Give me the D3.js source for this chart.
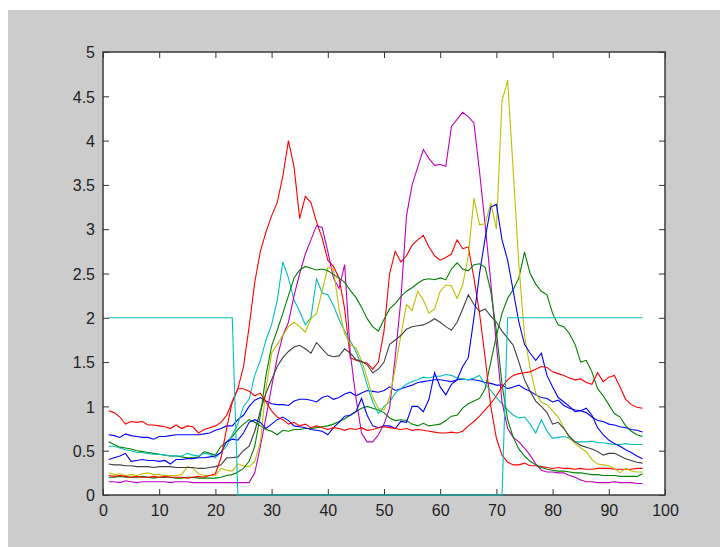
<!DOCTYPE html>
<html>
<head>
<meta charset="utf-8">
<script src="https://cdn.jsdelivr.net/npm/d3@7"></script>
<style>
  body { margin: 0; background: #fff; }
  svg { display: block; }
  .tick text { font-family: "Liberation Sans", Arial, sans-serif; font-size: 16px; fill: #222; }
</style>
</head>
<body>
<div id="chart"></div>
<script>
// sample index 1..96
const xs = d3.range(1, 97);

const blueA = [0.68,0.67,0.65,0.69,0.67,0.66,0.65,0.65,0.63,0.66,
  0.66,0.67,0.68,0.68,0.68,0.68,0.68,0.69,0.70,0.73,
  0.75,0.78,0.78,0.85,0.90,1.00,1.07,1.10,1.06,1.03,
  1.02,1.02,1.01,1.06,1.08,1.08,1.07,1.05,1.10,1.12,
  1.08,1.10,1.14,1.16,1.12,1.15,1.18,1.17,1.16,1.18,
  1.22,1.18,1.20,1.22,1.24,1.27,1.28,1.29,1.30,1.30,
  1.29,1.28,1.30,1.31,1.30,1.30,1.29,1.27,1.26,1.24,
  1.24,1.20,1.22,1.24,1.20,1.17,1.13,1.10,1.09,1.05,
  1.07,1.01,0.98,0.96,0.95,0.93,0.88,0.84,0.83,0.80,
  0.79,0.77,0.76,0.74,0.73,0.71];

const greenB = [0.60,0.57,0.54,0.53,0.52,0.50,0.49,0.48,0.47,0.46,
  0.45,0.44,0.44,0.43,0.42,0.42,0.43,0.49,0.47,0.45,
  0.55,0.60,0.66,0.74,0.80,0.85,0.82,0.78,0.74,0.72,
  0.68,0.73,0.72,0.74,0.74,0.75,0.75,0.76,0.77,0.78,
  0.80,0.83,0.86,0.90,0.94,0.98,1.00,0.98,0.96,0.93,
  0.87,0.84,0.85,0.84,0.80,0.78,0.81,0.78,0.79,0.80,
  0.84,0.89,0.90,0.98,1.03,1.06,1.09,1.20,1.50,1.80,
  2.05,2.22,2.32,2.45,2.74,2.50,2.38,2.30,2.26,2.05,
  1.92,1.90,1.82,1.70,1.50,1.52,1.39,1.20,1.12,1.02,
  0.92,0.88,0.78,0.72,0.68,0.66];

const redHi = [0.95,0.93,0.88,0.80,0.83,0.82,0.83,0.79,0.79,0.78,
  0.77,0.75,0.79,0.75,0.78,0.77,0.70,0.74,0.76,0.78,
  0.82,0.90,1.05,1.20,1.45,1.90,2.40,2.75,2.97,3.15,
  3.30,3.60,4.00,3.70,3.12,3.37,3.30,3.08,2.90,2.65,
  2.58,2.45,2.10,1.55,1.52,1.50,1.49,1.42,1.50,1.85,
  2.50,2.75,2.63,2.70,2.82,2.88,2.93,2.80,2.70,2.65,
  2.68,2.72,2.88,2.78,2.80,2.45,2.05,1.55,1.00,0.64,
  0.45,0.37,0.34,0.34,0.36,0.33,0.33,0.32,0.31,0.30,
  0.31,0.30,0.30,0.29,0.30,0.29,0.29,0.30,0.30,0.30,
  0.29,0.29,0.29,0.29,0.30,0.30];

const cyanA = [0.55,0.55,0.53,0.51,0.50,0.48,0.48,0.47,0.46,0.46,
  0.45,0.44,0.44,0.44,0.47,0.45,0.44,0.47,0.46,0.42,
  0.48,0.55,0.68,0.80,1.00,1.08,1.35,1.52,1.75,1.92,
  2.20,2.63,2.45,2.20,2.07,1.92,2.00,2.44,2.28,2.26,
  2.14,1.98,1.85,1.74,1.62,1.46,1.24,1.05,0.92,1.00,
  1.05,1.15,1.20,1.25,1.28,1.30,1.33,1.32,1.34,1.34,
  1.36,1.35,1.32,1.31,1.30,1.32,1.35,1.25,1.18,1.10,
  1.03,0.96,0.90,0.87,0.88,0.80,0.70,0.85,0.72,0.64,
  0.65,0.66,0.64,0.60,0.60,0.60,0.61,0.59,0.59,0.58,
  0.57,0.57,0.58,0.57,0.57,0.57];

const magenta = [0.15,0.15,0.14,0.16,0.15,0.14,0.15,0.15,0.15,0.15,
  0.15,0.14,0.15,0.15,0.15,0.14,0.14,0.14,0.14,0.14,
  0.14,0.14,0.14,0.14,0.14,0.14,0.25,0.55,0.88,1.22,
  1.55,1.80,1.95,2.25,2.50,2.72,2.88,3.04,3.02,2.75,
  2.45,2.33,2.60,1.60,1.10,0.70,0.60,0.60,0.68,0.80,
  0.98,1.56,2.20,3.15,3.50,3.70,3.90,3.80,3.72,3.73,
  3.71,4.16,4.24,4.32,4.27,4.20,3.65,3.05,2.40,1.70,
  1.05,0.75,0.65,0.60,0.53,0.45,0.35,0.28,0.26,0.26,
  0.25,0.25,0.22,0.20,0.17,0.15,0.15,0.14,0.14,0.14,
  0.15,0.14,0.14,0.14,0.13,0.13];

const yellow = [0.25,0.23,0.24,0.22,0.23,0.22,0.24,0.25,0.23,0.23,
  0.22,0.22,0.22,0.23,0.32,0.30,0.24,0.22,0.22,0.22,
  0.30,0.28,0.27,0.35,0.33,0.32,0.38,0.60,1.20,1.60,
  1.70,1.80,1.90,1.95,1.90,1.84,1.99,2.05,2.30,2.57,
  2.55,2.10,1.82,1.70,1.66,1.52,1.32,1.10,0.98,0.96,
  1.10,1.43,1.80,2.15,2.08,2.30,2.20,2.05,2.10,2.30,
  2.37,2.36,2.22,2.37,2.70,3.35,3.05,3.06,3.30,3.00,
  4.45,4.68,3.65,2.60,1.80,1.43,1.15,1.05,1.02,0.95,
  0.88,0.76,0.64,0.58,0.53,0.49,0.40,0.35,0.34,0.33,
  0.30,0.25,0.30,0.27,0.26,0.26];

const black = [0.35,0.34,0.34,0.33,0.33,0.32,0.32,0.32,0.31,0.32,
  0.32,0.32,0.31,0.31,0.31,0.31,0.30,0.30,0.31,0.32,
  0.34,0.42,0.42,0.43,0.50,0.55,0.72,0.95,1.15,1.30,
  1.45,1.55,1.62,1.67,1.69,1.65,1.60,1.72,1.65,1.58,
  1.56,1.57,1.65,1.60,1.53,1.51,1.47,1.38,1.42,1.50,
  1.70,1.75,1.80,1.87,1.90,1.91,1.92,1.95,1.99,1.95,
  1.90,1.86,1.95,2.10,2.26,2.15,2.07,2.10,2.02,1.95,
  1.85,1.77,1.69,1.50,1.30,1.17,1.06,1.00,0.93,0.80,
  0.82,0.75,0.66,0.60,0.56,0.54,0.52,0.49,0.45,0.47,
  0.47,0.44,0.41,0.39,0.37,0.36];

const blueB = [0.40,0.42,0.44,0.47,0.38,0.39,0.40,0.39,0.39,0.38,
  0.39,0.35,0.40,0.40,0.41,0.41,0.42,0.42,0.43,0.44,
  0.48,0.60,0.63,0.62,0.70,0.82,0.85,0.82,0.75,0.80,
  0.85,0.88,0.84,0.78,0.77,0.76,0.74,0.73,0.72,0.68,
  0.76,0.82,0.89,0.90,0.94,1.09,0.90,0.78,0.76,0.78,
  0.78,0.75,0.83,0.82,1.00,1.00,0.94,1.08,1.38,1.22,
  1.13,1.25,1.30,1.45,1.55,2.00,2.50,2.90,3.25,3.28,
  2.88,2.65,2.30,1.95,1.70,1.60,1.52,1.60,1.35,1.22,
  1.10,1.05,1.00,0.94,0.95,0.98,0.90,0.76,0.68,0.62,
  0.58,0.55,0.51,0.48,0.44,0.41];

const greenA = [0.20,0.20,0.21,0.20,0.20,0.20,0.21,0.20,0.19,0.20,
  0.20,0.20,0.19,0.19,0.20,0.20,0.19,0.19,0.19,0.19,
  0.20,0.22,0.23,0.26,0.30,0.38,0.55,0.90,1.35,1.68,
  1.86,2.05,2.25,2.45,2.54,2.58,2.56,2.54,2.55,2.53,
  2.49,2.45,2.40,2.31,2.23,2.12,1.99,1.90,1.85,1.98,
  2.10,2.16,2.24,2.30,2.34,2.39,2.43,2.44,2.43,2.45,
  2.43,2.55,2.62,2.55,2.53,2.60,2.61,2.57,2.30,1.85,
  1.25,0.85,0.65,0.52,0.44,0.38,0.34,0.31,0.29,0.28,
  0.27,0.27,0.26,0.25,0.25,0.24,0.23,0.23,0.22,0.22,
  0.22,0.21,0.21,0.21,0.21,0.24];

const redLo = [0.22,0.21,0.22,0.21,0.20,0.21,0.20,0.20,0.21,0.20,
  0.21,0.20,0.20,0.20,0.19,0.20,0.21,0.20,0.22,0.24,
  0.42,0.75,1.05,1.20,1.20,1.17,1.12,1.15,1.05,0.95,
  0.88,0.85,0.80,0.82,0.78,0.80,0.76,0.78,0.76,0.74,
  0.76,0.75,0.73,0.75,0.74,0.76,0.73,0.74,0.76,0.77,
  0.76,0.75,0.74,0.75,0.73,0.74,0.73,0.72,0.71,0.70,
  0.70,0.71,0.70,0.72,0.78,0.83,0.89,0.96,1.03,1.12,
  1.22,1.30,1.35,1.37,1.38,1.39,1.42,1.45,1.44,1.39,
  1.37,1.35,1.32,1.30,1.31,1.27,1.25,1.38,1.28,1.33,
  1.35,1.22,1.08,1.02,0.99,0.98];

// on/off step: x 1-23 high, 24-71 low, 72-96 high
const stepLine = [
  2,2,2,2,2,2,2,2,2,2,
  2,2,2,2,2,2,2,2,2,2,
  2,2,2,0,0,0,0,0,0,0,
  0,0,0,0,0,0,0,0,0,0,
  0,0,0,0,0,0,0,0,0,0,
  0,0,0,0,0,0,0,0,0,0,
  0,0,0,0,0,0,0,0,0,0,
  0,2,2,2,2,2,2,2,2,2,
  2,2,2,2,2,2,2,2,2,2,
  2,2,2,2,2,2];

const xTicks = [0,10,20,30,40,50,60,70,80,90,100];
const yTicks = [0,0.5,1,1.5,2,2.5,3,3.5,4,4.5,5];

const series = [
  {values: blueA, color: "#0000ff"},
  {values: greenB, color: "#008000"},
  {values: redHi, color: "#ff0000"},
  {values: cyanA, color: "#00bfbf"},
  {values: magenta, color: "#bf00bf"},
  {values: yellow, color: "#bfbf00"},
  {values: black, color: "#404040"},
  {values: blueB, color: "#0000ff"},
  {values: greenA, color: "#008000"},
  {values: redLo, color: "#ff0000"},
  {values: stepLine, color: "#00bfbf"}
];

const width = 720, height = 547;
const plotLeft = 103, plotRight = 665, plotTop = 52, plotBottom = 495;

const svg = d3.select("#chart").append("svg")
    .attr("width", width)
    .attr("height", height);

// figure background
svg.append("rect")
    .attr("x", 8).attr("y", 10)
    .attr("width", width - 8).attr("height", height - 10)
    .attr("fill", "#cccccc");

svg.append("rect")
    .attr("x", plotLeft).attr("y", plotTop)
    .attr("width", plotRight - plotLeft).attr("height", plotBottom - plotTop)
    .attr("fill", "#ffffff");

const xScale = d3.scaleLinear().domain([0, 100]).range([plotLeft, plotRight]);
const yScale = d3.scaleLinear().domain([0, 5]).range([plotBottom, plotTop]);

// axes, ticks pointing inward like matlab
const tick = 6;
const fmt = d => String(d);
let gx = svg.append("g")
    .attr("transform", `translate(0,${plotBottom})`)
    .call(d3.axisBottom(xScale).tickValues(xTicks).tickFormat(fmt).tickSizeInner(-tick).tickSizeOuter(0).tickPadding(10));
let gxTop = svg.append("g")
    .attr("transform", `translate(0,${plotTop})`)
    .call(d3.axisTop(xScale).tickValues(xTicks).tickSizeInner(-tick).tickSizeOuter(0).tickFormat(""));
let gy = svg.append("g")
    .attr("transform", `translate(${plotLeft},0)`)
    .call(d3.axisLeft(yScale).tickValues(yTicks).tickFormat(fmt).tickSizeInner(-tick).tickSizeOuter(0).tickPadding(8));
let gyRight = svg.append("g")
    .attr("transform", `translate(${plotRight},0)`)
    .call(d3.axisRight(yScale).tickValues(yTicks).tickSizeInner(-tick).tickSizeOuter(0).tickFormat(""));

[gx, gxTop, gy, gyRight].forEach(g => {
  g.select(".domain").remove();
  g.selectAll(".tick line").attr("stroke", "#333").attr("stroke-width", 1);
});
gy.selectAll(".tick text").attr("dy", "0.36em");

// axes box
svg.append("rect")
    .attr("x", plotLeft).attr("y", plotTop)
    .attr("width", plotRight - plotLeft).attr("height", plotBottom - plotTop)
    .attr("fill", "none")
    .attr("stroke", "#3a3a3a")
    .attr("stroke-width", 1.5);

// lines go on top of the box, so the zero part of the step shows over the axis
svg.append("clipPath").attr("id", "clip")
  .append("rect")
    .attr("x", plotLeft).attr("y", plotTop - 1)
    .attr("width", plotRight - plotLeft).attr("height", plotBottom - plotTop + 2);

const line = d3.line()
    .x((d, i) => xScale(xs[i]))
    .y(d => yScale(d));

svg.append("g")
    .attr("clip-path", "url(#clip)")
  .selectAll("path")
    .data(series)
    .enter()
  .append("path")
    .attr("d", d => line(d.values))
    .attr("fill", "none")
    .attr("stroke", d => d.color)
    .attr("stroke-width", 1.1);
</script>
</body>
</html>
